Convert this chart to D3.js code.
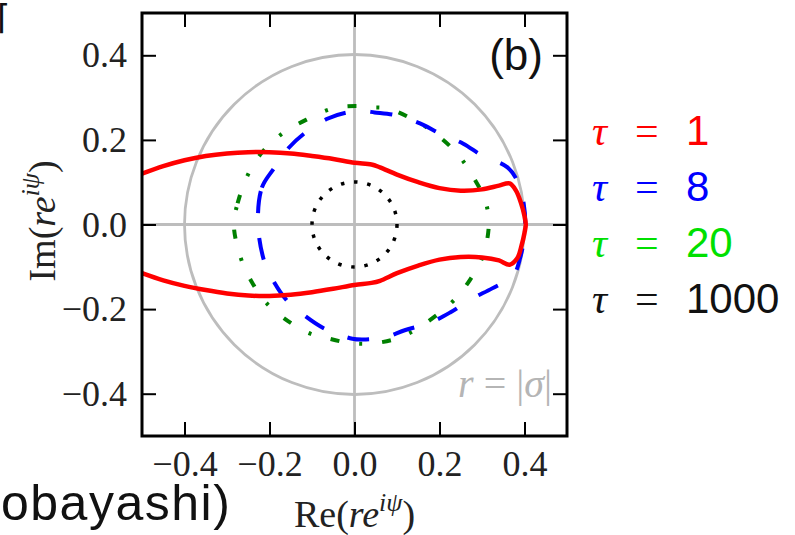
<!DOCTYPE html>
<html>
<head>
<meta charset="utf-8">
<script src="https://cdnjs.cloudflare.com/ajax/libs/d3/7.8.5/d3.min.js"></script>
<style>
  body { margin: 0; background: #fff; }
  svg { display: block; }
</style>
</head>
<body>
<div id="chart"></div>
<script>
// tick values on both axes
var xTicks = [-0.4, -0.2, 0.0, 0.2, 0.4];
var yTicks = [-0.4, -0.2, 0.0, 0.2, 0.4];

var tau1Points = [
  [-0.5, 0.12], [-0.45, 0.138], [-0.4, 0.152], [-0.35, 0.162], [-0.3, 0.168],
  [-0.25, 0.171], [-0.2, 0.171], [-0.15, 0.168], [-0.1, 0.162], [-0.05, 0.155],
  [0.0, 0.146], [0.04, 0.142], [0.06, 0.135], [0.1, 0.118], [0.15, 0.1],
  [0.2, 0.086], [0.25, 0.08], [0.3, 0.083], [0.34, 0.092], [0.365, 0.097],
  [0.38, 0.08], [0.392, 0.05], [0.4, 0.02], [0.403, 0.0],
  [0.4, -0.02], [0.393, -0.05], [0.383, -0.08], [0.365, -0.095], [0.34, -0.085],
  [0.3, -0.078], [0.25, -0.077], [0.2, -0.083], [0.15, -0.097], [0.1, -0.115],
  [0.06, -0.133], [0.04, -0.138], [0.0, -0.143], [-0.05, -0.152], [-0.1, -0.16],
  [-0.15, -0.166], [-0.2, -0.169], [-0.25, -0.168], [-0.3, -0.163], [-0.35, -0.155],
  [-0.4, -0.145], [-0.45, -0.132], [-0.5, -0.115]
];

// tau = 8 (blue, dashed), closed loop
var tau8Points = [
  [-0.227, 0.0], [-0.218, 0.087], [-0.19, 0.132], [-0.154, 0.182], [-0.116, 0.217],
  [-0.064, 0.25], [-0.017, 0.265], [0.02, 0.268], [0.047, 0.265], [0.099, 0.258],
  [0.154, 0.239], [0.201, 0.215], [0.256, 0.191], [0.3, 0.163], [0.36, 0.135],
  [0.386, 0.097], [0.398, 0.05], [0.402, 0.0], [0.398, -0.04], [0.39, -0.078],
  [0.374, -0.12], [0.324, -0.151], [0.277, -0.175], [0.225, -0.208], [0.178, -0.232],
  [0.118, -0.25], [0.071, -0.267], [0.02, -0.272], [-0.005, -0.27], [-0.071, -0.246],
  [-0.118, -0.215], [-0.159, -0.18], [-0.194, -0.128], [-0.213, -0.085]
];

// tau = 20 (green, dash-dot), closed loop
var tau20Points = [
  [-0.284, 0.0], [-0.275, 0.05], [-0.253, 0.113], [-0.218, 0.17], [-0.17, 0.215],
  [-0.113, 0.248], [-0.052, 0.274], [0.005, 0.28], [0.028, 0.277], [0.078, 0.274],
  [0.14, 0.247], [0.19, 0.215], [0.243, 0.166], [0.279, 0.113], [0.308, 0.055],
  [0.316, 0.0], [0.302, -0.075], [0.271, -0.132], [0.228, -0.185], [0.123, -0.26],
  [0.059, -0.279], [-0.005, -0.281], [-0.071, -0.267], [-0.104, -0.258], [-0.151, -0.232],
  [-0.205, -0.188], [-0.241, -0.137], [-0.268, -0.078]
];

// tau = 1000 (black, dotted) is a small circle, and the grey reference circle r = |sigma|
var tau1000Radius = 0.1;
var sigmaRadius = 0.4;

// legend
var legendValues = ["1", "8", "20", "1000"];
var legendColors = ["#ff0000", "#0000ff", "#00e000", "#111111"];

var W = 795, H = 535;
var margin = {top: 13, right: 228, bottom: 99, left: 142};

var svg = d3.select("#chart").append("svg")
  .attr("width", W)
  .attr("height", H);

var x = d3.scaleLinear().domain([-0.5, 0.5]).range([margin.left, W - margin.right]);
var y = d3.scaleLinear().domain([-0.5, 0.5]).range([H - margin.bottom, margin.top]);

var serif = "'Liberation Serif', 'DejaVu Serif', serif";
var sans = "'Liberation Sans', Arial, sans-serif";

// clip to the axes box
svg.append("clipPath").attr("id", "plotclip")
  .append("rect")
  .attr("x", x(-0.5)).attr("y", y(0.5))
  .attr("width", x(0.5) - x(-0.5)).attr("height", y(-0.5) - y(0.5));

var plot = svg.append("g").attr("clip-path", "url(#plotclip)");

// grey cross through the origin
plot.append("line")
  .attr("x1", x(-0.5)).attr("x2", x(0.5))
  .attr("y1", y(0)).attr("y2", y(0))
  .attr("stroke", "#bdbdbd").attr("stroke-width", 2.8);
plot.append("line")
  .attr("x1", x(0)).attr("x2", x(0))
  .attr("y1", y(-0.5)).attr("y2", y(0.5))
  .attr("stroke", "#bdbdbd").attr("stroke-width", 2.8);

// grey circle r = |sigma|
plot.append("circle")
  .attr("cx", x(0)).attr("cy", y(0))
  .attr("r", x(sigmaRadius) - x(0))
  .attr("fill", "none")
  .attr("stroke", "#bdbdbd").attr("stroke-width", 2.8);

var line = d3.line()
  .x(function(d) { return x(d[0]); })
  .y(function(d) { return y(d[1]); });

// tau = 20
plot.append("path")
  .datum(tau20Points)
  .attr("d", line.curve(d3.curveCatmullRomClosed))
  .attr("fill", "none")
  .attr("stroke", "#008000")
  .attr("stroke-width", 4)
  .attr("stroke-dasharray", "9,20,3,20");

// tau = 8
plot.append("path")
  .datum(tau8Points)
  .attr("d", line.curve(d3.curveCatmullRomClosed))
  .attr("fill", "none")
  .attr("stroke", "#0000ff")
  .attr("stroke-width", 4)
  .attr("stroke-dasharray", "22,25");

// tau = 1000
plot.append("circle")
  .attr("cx", x(0)).attr("cy", y(0))
  .attr("r", x(tau1000Radius) - x(0))
  .attr("fill", "none")
  .attr("stroke", "#000")
  .attr("stroke-width", 3.5)
  .attr("stroke-dasharray", "3.5,9.8");

// tau = 1
plot.append("path")
  .datum(tau1Points)
  .attr("d", line.curve(d3.curveCatmullRom))
  .attr("fill", "none")
  .attr("stroke", "#ff0000")
  .attr("stroke-width", 4.5);

// axes, ticks pointing in
var fmt = d3.format(".1f");
svg.append("g").attr("transform", "translate(" + x(-0.5) + ",0)")
  .call(d3.axisLeft(y).tickValues(yTicks).tickFormat(fmt).tickSize(-14).tickPadding(15));
svg.append("g").attr("transform", "translate(0," + y(-0.5) + ")")
  .call(d3.axisBottom(x).tickValues(xTicks).tickFormat(fmt).tickSize(-14).tickPadding(14));
svg.append("g").attr("transform", "translate(" + x(0.5) + ",0)")
  .call(d3.axisRight(y).tickValues(yTicks).tickFormat("").tickSize(-14));
svg.append("g").attr("transform", "translate(0," + y(0.5) + ")")
  .call(d3.axisTop(x).tickValues(xTicks).tickFormat("").tickSize(-14));

svg.selectAll(".domain").remove();
svg.selectAll(".tick line").attr("stroke", "#000").attr("stroke-width", 2);
svg.selectAll(".tick text")
  .attr("font-family", serif)
  .attr("font-size", 36)
  .attr("fill", "#222");

// frame
svg.append("rect")
  .attr("x", x(-0.5)).attr("y", y(0.5))
  .attr("width", x(0.5) - x(-0.5)).attr("height", y(-0.5) - y(0.5))
  .attr("fill", "none")
  .attr("stroke", "#000").attr("stroke-width", 3);

// panel tag
svg.append("text")
  .attr("x", 543).attr("y", 70)
  .attr("text-anchor", "end")
  .attr("font-family", sans).attr("font-size", 44)
  .attr("fill", "#111")
  .text("(b)");

// r = |sigma| label
var rl = svg.append("text")
  .attr("x", 552).attr("y", 397)
  .attr("text-anchor", "end")
  .attr("font-family", serif).attr("font-size", 40)
  .attr("fill", "#b5b5b5");
rl.append("tspan").attr("font-style", "italic").text("r");
rl.append("tspan").text(" = |");
rl.append("tspan").attr("font-style", "italic").text("σ");
rl.append("tspan").text("|");

// axis labels
var xl = svg.append("text")
  .attr("x", x(0)).attr("y", 527)
  .attr("text-anchor", "middle")
  .attr("font-family", serif).attr("font-size", 38)
  .attr("fill", "#222");
xl.append("tspan").text("Re(");
xl.append("tspan").attr("font-style", "italic").text("re");
xl.append("tspan").attr("font-style", "italic").attr("font-size", 26).attr("dy", -16).text("iψ");
xl.append("tspan").attr("dy", 16).text(")");

var yl = svg.append("text")
  .attr("transform", "translate(55,221) rotate(-90)")
  .attr("text-anchor", "middle")
  .attr("font-family", serif).attr("font-size", 38)
  .attr("fill", "#222");
yl.append("tspan").text("Im(");
yl.append("tspan").attr("font-style", "italic").text("re");
yl.append("tspan").attr("font-style", "italic").attr("font-size", 26).attr("dy", -16).text("iψ");
yl.append("tspan").attr("dy", 16).text(")");

// legend
var leg = svg.append("g");
legendValues.forEach(function(v, i) {
  var t = leg.append("text")
    .attr("x", 592).attr("y", 145 + i * 56)
    .attr("font-size", 42)
    .attr("fill", legendColors[i]);
  t.append("tspan").attr("font-family", serif).attr("font-style", "italic").text("τ");
  t.append("tspan").attr("font-family", serif).attr("x", 635).text("=");
  t.append("tspan").attr("font-family", sans).attr("x", 686).text(v);
});

// slide text left over around the figure
svg.append("text")
  .attr("x", 1).attr("y", 520)
  .attr("font-family", sans).attr("font-size", 50)
  .attr("letter-spacing", 1.5)
  .attr("fill", "#111")
  .text("obayashi)");
svg.append("text")
  .attr("x", -3).attr("y", 29)
  .attr("font-family", "'DejaVu Sans', sans-serif").attr("font-size", 34)
  .attr("fill", "#111")
  .text("⌈");
</script>
</body>
</html>
